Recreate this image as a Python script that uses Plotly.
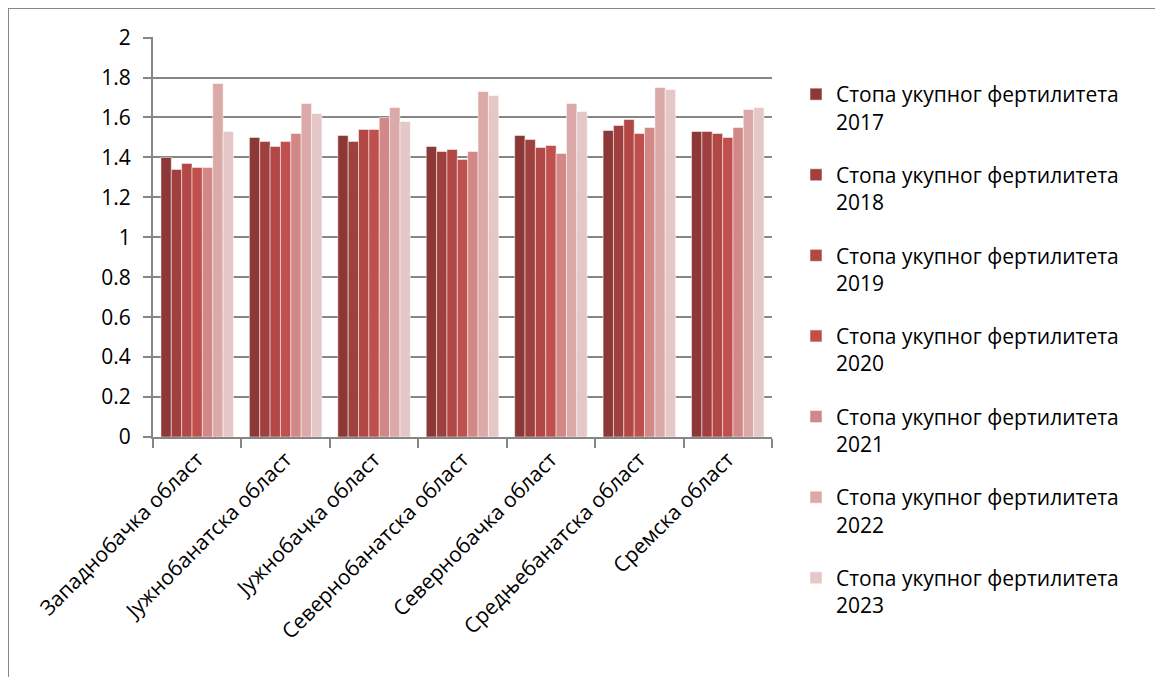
import plotly.graph_objects as go

categories = ["Западнобачка област", "Јужнобанатска област", "Јужнобачка област",
              "Севернобанатска област", "Севернобачка област", "Средњебанатска област",
              "Сремска област"]
years = ["2017", "2018", "2019", "2020", "2021", "2022", "2023"]
v2017 = [1.40, 1.50, 1.51, 1.455, 1.51, 1.535, 1.53]
v2018 = [1.34, 1.48, 1.48, 1.43, 1.49, 1.56, 1.53]
v2019 = [1.37, 1.455, 1.54, 1.44, 1.45, 1.59, 1.52]
v2020 = [1.35, 1.48, 1.54, 1.39, 1.46, 1.52, 1.50]
v2021 = [1.35, 1.52, 1.60, 1.43, 1.42, 1.55, 1.55]
v2022 = [1.77, 1.67, 1.65, 1.73, 1.67, 1.75, 1.64]
v2023 = [1.53, 1.62, 1.58, 1.71, 1.63, 1.74, 1.65]
series = [v2017, v2018, v2019, v2020, v2021, v2022, v2023]
colors = ['#8C3836', '#A0403E', '#B14846', '#C0504D', '#D18886', '#DBA9A8', '#E5C7C7']

FONT = "Open Sans"
FS = 21

fig = go.Figure()
for i, (yr, vals) in enumerate(zip(years, series)):
    fig.add_trace(go.Bar(
        x=categories, y=vals,
        name="Стопа укупног фертилитета<br>" + yr,
        legendgroup=yr,
        marker=dict(color=colors[i], line=dict(color='rgba(255,255,255,0.5)', width=1)),
    ))

# page has an 8px body margin; figure coordinates = page coordinates - 8
OFF = 8
W, H = 1147, 669
L, T = 153 - OFF, 37 - OFF
pw, ph = 619, 400
R, B = W - L - pw, H - T - ph

def px_x(page_x):
    return (page_x - OFF - L) / pw

def px_y(page_y):
    return (T + ph - (page_y - OFF)) / ph

fig.update_layout(
    width=W, height=H,
    margin=dict(l=L, r=R, t=T, b=B),
    paper_bgcolor='white', plot_bgcolor='white',
    barmode='group', bargap=0.18, bargroupgap=0,
    font=dict(family=FONT, size=FS, color='black'),
    legend=dict(x=px_x(796), y=px_y(74), xanchor='left', yanchor='top',
                font=dict(family=FONT, size=FS, color='black'),
                tracegroupgap=23, itemwidth=30, maxheight=640, valign='top',
                bgcolor='rgba(0,0,0,0)'),
    xaxis=dict(showline=True, linecolor='#868686', linewidth=2,
               ticks='outside', tickson='boundaries', ticklen=9, tickcolor='#868686', tickwidth=2,
               tickangle=-45, tickfont=dict(family=FONT, size=FS),
               showgrid=False),
    yaxis=dict(range=[0, 2.003], tickvals=[0, 0.2, 0.4, 0.6, 0.8, 1, 1.2, 1.4, 1.6, 1.8, 2],
               ticktext=["0", "0.2", "0.4", "0.6", "0.8", "1", "1.2", "1.4", "1.6", "1.8", "2"],
               showline=True, linecolor='#868686', linewidth=2,
               ticks='outside', ticklen=8, tickcolor='#868686', tickwidth=2,
               ticklabelstandoff=8,
               showgrid=True, gridcolor='#868686', gridwidth=2,
               zeroline=False, tickfont=dict(family=FONT, size=FS)),
    shapes=[dict(type='rect', xref='paper', yref='paper',
                 x0=px_x(8), x1=px_x(1158),
                 y0=px_y(700), y1=px_y(8),
                 line=dict(color='#868686', width=2), fillcolor='rgba(0,0,0,0)', layer='below')],
)

fig.write_html("out.html")
